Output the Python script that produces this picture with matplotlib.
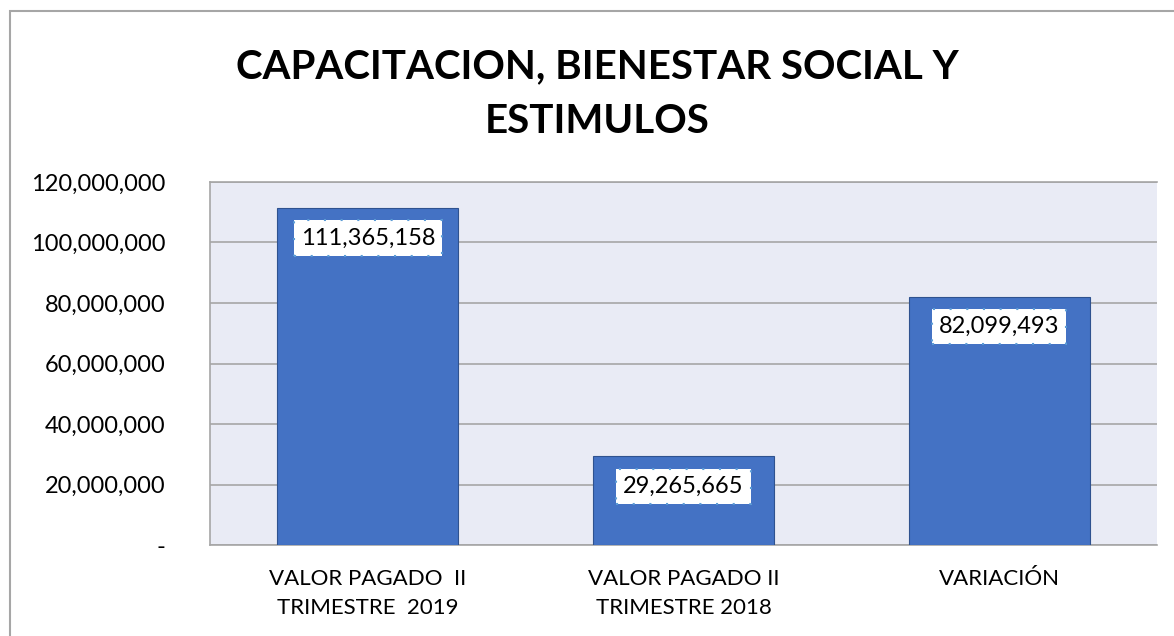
import matplotlib.pyplot as plt
from matplotlib.patches import Rectangle
from matplotlib.ticker import FuncFormatter

# datos
categorias = ["VALOR PAGADO  II\nTRIMESTRE  2019", "VALOR PAGADO II\nTRIMESTRE 2018", "VARIACIÓN"]
valores = [111365158, 29265665, 82099493]
titulo = "CAPACITACION, BIENESTAR SOCIAL Y\nESTIMULOS"

plt.rcParams['font.family'] = ['Lato', 'DejaVu Sans']

fig = plt.figure(figsize=(11.74, 6.36), dpi=100)
ax = fig.add_axes([210/1174, 91/636, 947/1174, 363/636])

# borde exterior del grafico
fig.patches.append(Rectangle((10/1174, -0.05), 1.2, (625/636) + 0.05, transform=fig.transFigure,
                             fill=False, edgecolor='#A6A6A6', linewidth=1.5))

ax.set_facecolor('#E9EBF5')
x = range(len(categorias))
ax.bar(x, valores, width=0.573, color='#4472C4', edgecolor='#2F528F', linewidth=0.8, zorder=3)

ax.set_ylim(0, 120000000)
ax.set_xlim(-0.5, 2.5)
ax.set_yticks(range(0, 120000001, 20000000))
ax.yaxis.set_major_formatter(FuncFormatter(lambda v, p: '-' if v == 0 else f'{v:,.0f}'))
ax.grid(axis='y', color='#A6A6A6', linewidth=1.2, zorder=0)
ax.set_xticks(list(x))
ax.set_xticklabels(categorias, fontsize=16, linespacing=1.6)
ax.tick_params(axis='y', length=0, labelsize=17, colors='black', pad=32)
ax.tick_params(axis='x', length=0, colors='black', pad=17)
for lado in ['top', 'left', 'right', 'bottom']:
    ax.spines[lado].set_color('#A6A6A6')
    ax.spines[lado].set_linewidth(1.2)
ax.spines['right'].set_visible(False)

for i, v in enumerate(valores):
    ax.annotate(f'{v:,.0f}', (i, v), xytext=(0, -21.5), textcoords='offset points',
                ha='center', va='center', fontsize=17, zorder=5,
                bbox=dict(boxstyle='square,pad=0.3', facecolor='white',
                          edgecolor='#5B9BD5', linestyle=(0, (1, 7)), linewidth=1.5))

fig.text(597/1174, 1 - 94/636, titulo, ha='center', va='center', fontsize=29,
         fontweight='bold', linespacing=1.6)

fig.savefig('out.png', dpi=100)
